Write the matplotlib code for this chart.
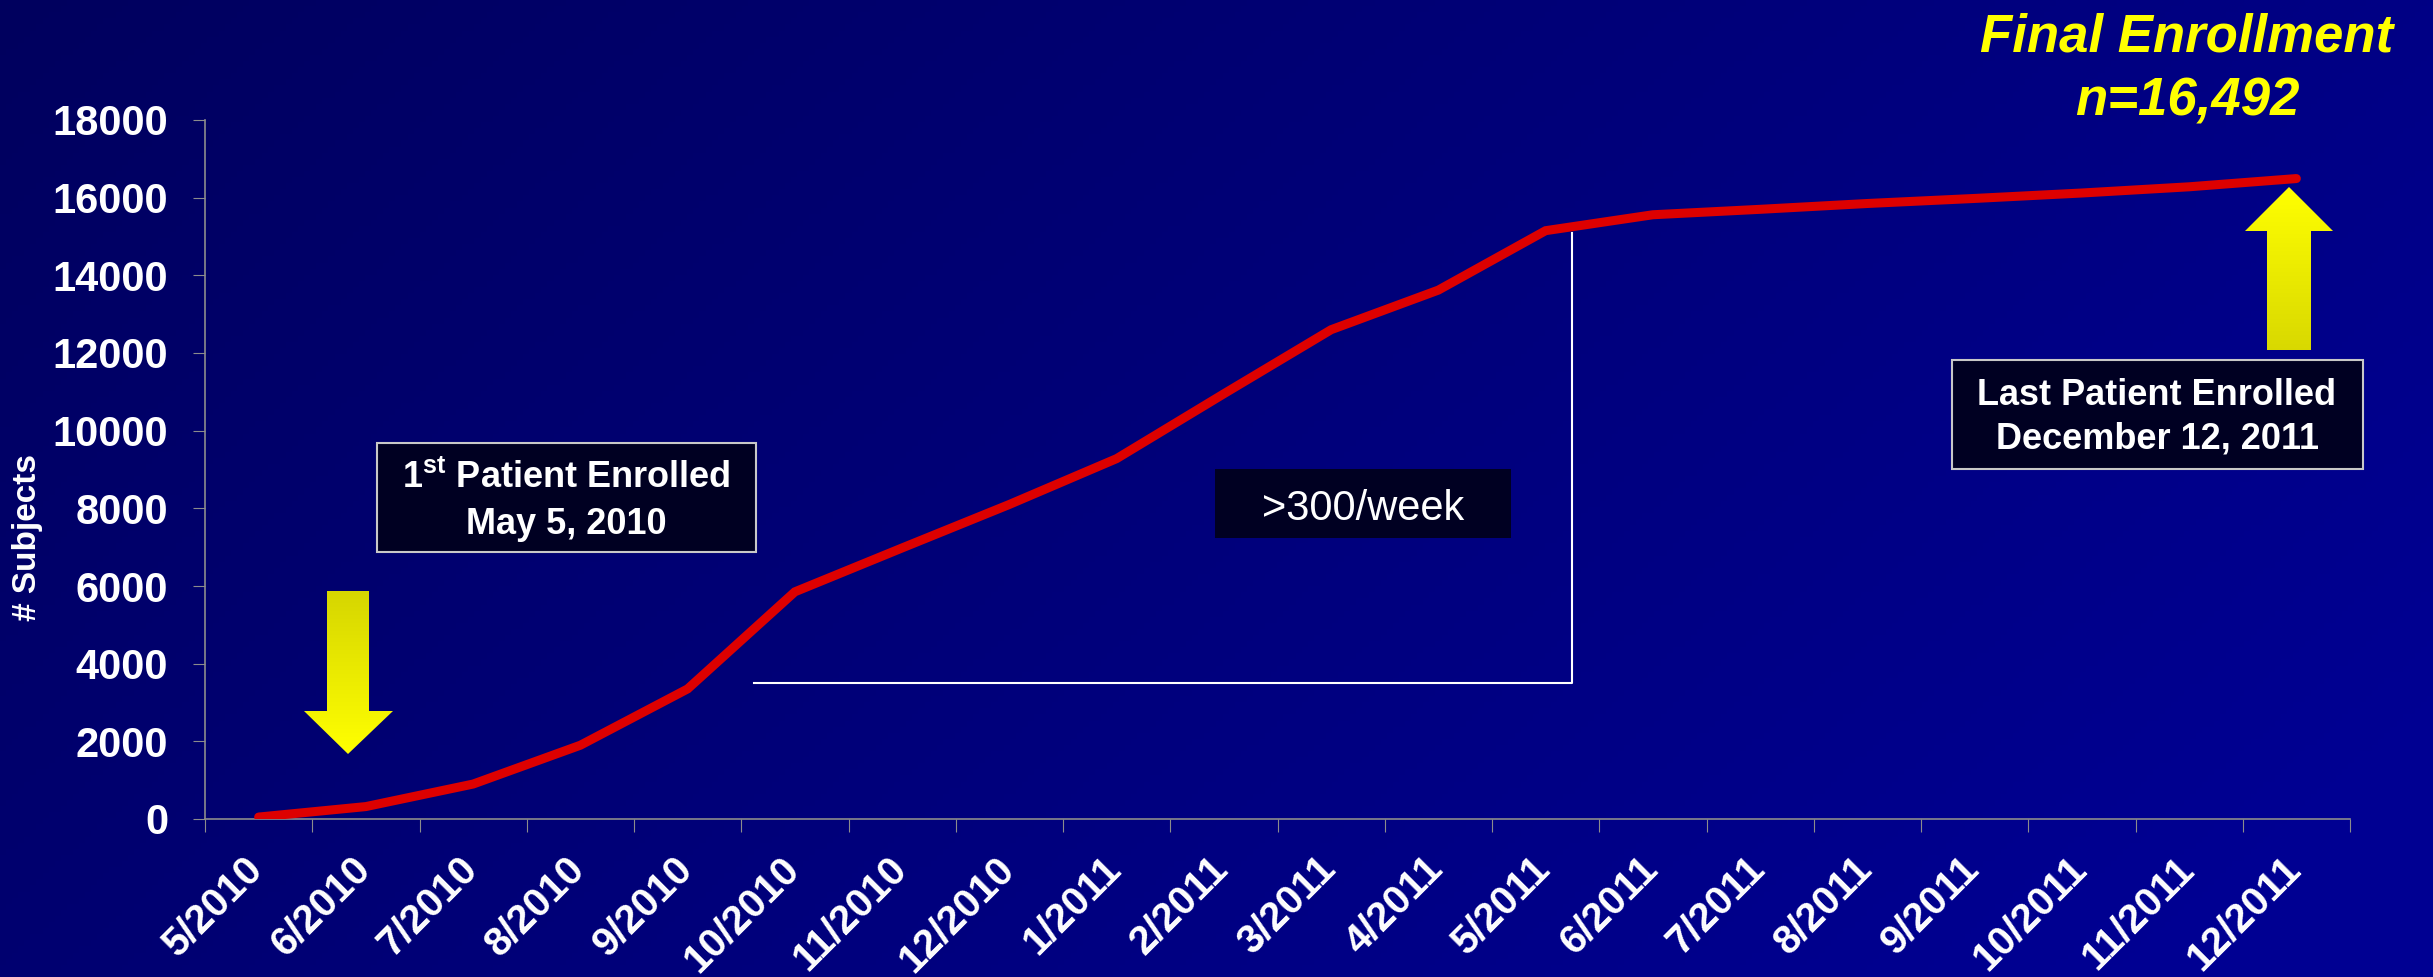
import numpy as np
import matplotlib
matplotlib.use('Agg')
import matplotlib.pyplot as plt
import matplotlib.transforms as mtransforms
from matplotlib.patches import Polygon, Rectangle

plt.rcParams['font.family'] = ['Liberation Sans', 'DejaVu Sans']
plt.rcParams['mathtext.fontset'] = 'custom'
plt.rcParams['mathtext.rm'] = 'Liberation Sans'
plt.rcParams['mathtext.bf'] = 'Liberation Sans:bold'

# cumulative enrollment by month
months = ['5/2010', '6/2010', '7/2010', '8/2010', '9/2010', '10/2010', '11/2010',
          '12/2010', '1/2011', '2/2011', '3/2011', '4/2011', '5/2011', '6/2011',
          '7/2011', '8/2011', '9/2011', '10/2011', '11/2011', '12/2011']
enrolled = [50, 320, 900, 1900, 3350, 5850, 6980, 8100, 9280, 10950, 12600,
            13620, 15150, 15560, 15700, 15850, 15980, 16120, 16280, 16492]
y_ticks = list(range(0, 18001, 2000))

# bracket marking the steep enrollment phase
rate_x = [4.62, 12.25, 12.25]
rate_y = [3500, 3500, 15100]

W, H = 2433, 977
fig = plt.figure(figsize=(W / 100, H / 100), dpi=100)

# navy background gradient
bg = fig.add_axes([0, 0, 1, 1])
bg.set_axis_off()
u = np.linspace(0, 1, 400)[None, :]
v = np.linspace(0, 1, 160)[:, None]
blue = (0x5E + 0x34 * np.clip(0.75 * u + 0.35 * v, 0, 1)) / 255
img = np.zeros((160, 400, 3))
img[..., 2] = blue
bg.imshow(img, aspect='auto', extent=(0, 1, 0, 1), origin='upper')

ax = fig.add_axes([205 / W, 158 / H, (2350 - 205) / W, (819 - 120) / H])
ax.set_facecolor('none')
x = np.arange(len(months))
ax.plot(x, enrolled, color='#DD0000', lw=6.5, solid_capstyle='round',
        solid_joinstyle='miter', zorder=3)
ax.plot(rate_x, rate_y, color='white', lw=1.5, zorder=2)

ax.set_xlim(-0.5, len(months) - 0.5)
ax.set_ylim(0, 18000)
ax.set_yticks(y_ticks)
ax.set_xticks(x)
ax.set_xticklabels(months, rotation=45, ha='right', va='top', rotation_mode='anchor',
                   fontsize=29, fontweight='bold', color='white')
ax.set_xticks(np.arange(-0.5, len(months)), minor=True)
ax.tick_params(axis='x', which='major', length=0, pad=27)
ax.tick_params(axis='x', which='minor', length=9.4, width=0.8, color='#8C8C8C')
ax.tick_params(axis='y', length=8.6, width=0.8, color='#8C8C8C', pad=18,
               labelsize=30, labelcolor='white')
for lab in ax.get_yticklabels():
    lab.set_fontweight('bold')
# nudge the slanted month labels left and up a little
shift = mtransforms.ScaledTranslation(-0.15, 0.07, fig.dpi_scale_trans)
for lab in ax.get_xticklabels():
    lab.set_transform(lab.get_transform() + shift)
for s in ['top', 'right']:
    ax.spines[s].set_visible(False)
for s in ['left', 'bottom']:
    ax.spines[s].set_color('#8C8C8C')
    ax.spines[s].set_linewidth(1.2)
ax.set_ylabel('# Subjects', fontsize=24, fontweight='bold', color='white', va='center')
ax.yaxis.set_label_coords(-0.0826, 0.403)

# overlay in pixel coordinates for callouts
ov = fig.add_axes([0, 0, 1, 1])
ov.set_axis_off()


def box(x0, y0, x1, y1, edge):
    ov.add_patch(Rectangle((x0, y0), x1 - x0, y1 - y0, facecolor='#000022',
                           edgecolor=edge, lw=1.5))


def grad_arrow(pts, top_rgb, bot_rgb):
    pts = np.array(pts, dtype=float)
    poly = Polygon(pts, closed=True, facecolor='none', edgecolor='none')
    ov.add_patch(poly)
    t = np.linspace(0, 1, 100)[:, None, None]
    g = (1 - t) * np.array(top_rgb)[None, None, :] + t * np.array(bot_rgb)[None, None, :]
    g = np.repeat(g, 2, axis=1)
    im = ov.imshow(g, extent=(pts[:, 0].min(), pts[:, 0].max(), pts[:, 1].max(), pts[:, 1].min()),
                   origin='upper', aspect='auto', interpolation='bilinear')
    im.set_clip_path(poly)


box(377, 443, 756, 552, '#C8C8C8')
ov.text(566, 488, r'$\mathbf{1^{st}}$ Patient Enrolled', ha='center', va='baseline',
        fontsize=26, fontweight='bold', color='white')
ov.text(566, 534, 'May 5, 2010', ha='center', va='baseline',
        fontsize=26, fontweight='bold', color='white')

box(1215, 469, 1511, 538, 'none')
ov.text(1363, 520, '>300/week', ha='center', va='baseline', fontsize=30, color='white')

box(1952, 360, 2363, 469, '#C8C8C8')
ov.text(2157, 405, 'Last Patient Enrolled', ha='center', va='baseline',
        fontsize=26, fontweight='bold', color='white')
ov.text(2157, 448, 'December 12, 2011', ha='center', va='baseline',
        fontsize=26, fontweight='bold', color='white')

ov.text(2187, 52, 'Final Enrollment', ha='center', va='baseline', fontsize=38,
        fontweight='bold', fontstyle='italic', color='#FFFF00')
ov.text(2187, 116, f'n={enrolled[-1]:,}', ha='center', va='baseline', fontsize=38,
        fontweight='bold', fontstyle='italic', color='#FFFF00')

grad_arrow([(327, 591), (369, 591), (369, 711), (393, 711), (348, 754), (304, 711), (327, 711)],
           (0.84, 0.84, 0.0), (1.0, 1.0, 0.0))
grad_arrow([(2289, 187), (2333, 231), (2311, 231), (2311, 350), (2267, 350), (2267, 231), (2245, 231)],
           (1.0, 1.0, 0.0), (0.85, 0.85, 0.0))

ov.set_xlim(0, W)
ov.set_ylim(H, 0)

fig.savefig('out.png', dpi=100)
